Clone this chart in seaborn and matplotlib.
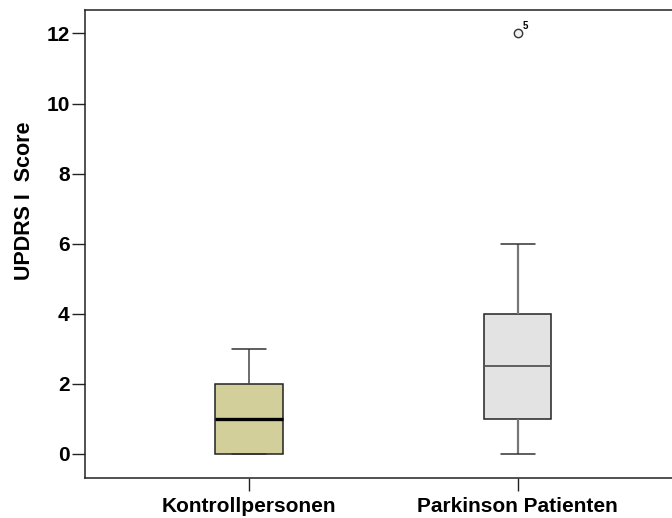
import numpy as np
import pandas as pd
import matplotlib
matplotlib.use("Agg")
import matplotlib.pyplot as plt
import seaborn as sns

# --- Daten ---
gruppen = ["Kontrollpersonen", "Parkinson Patienten"]
kontroll_werte = [0, 0, 0, 1, 1, 2, 2, 3]
parkinson_werte = [0, 1, 1, 1, 2, 3, 4, 4, 6, 12]
ausreisser_fall = "5"
y_ticks = [0, 2, 4, 6, 8, 10, 12]
farben = ["#D3CF9A", "#E3E3E3"]

df = pd.DataFrame({
    "gruppe": [gruppen[0]] * len(kontroll_werte) + [gruppen[1]] * len(parkinson_werte),
    "score": kontroll_werte + parkinson_werte,
})

sns.set_style("white")
plt.rcParams["font.family"] = ["Liberation Sans", "DejaVu Sans"]
plt.rcParams["text.color"] = "black"
plt.rcParams["axes.labelcolor"] = "black"
plt.rcParams["xtick.color"] = "black"
plt.rcParams["ytick.color"] = "black"

fig = plt.figure(figsize=(6.72, 5.18), dpi=100)
ax = fig.add_axes([84.7 / 672, 40 / 518, (682 - 84.7) / 672, (478 - 10.3) / 518])

flier = dict(marker="o", markersize=6, markerfacecolor="#f2f2f2",
             markeredgecolor="#333333", markeredgewidth=1)

# Kontrollpersonen
sns.boxplot(data=df[df["gruppe"] == gruppen[0]], x="gruppe", y="score", order=gruppen,
            color=farben[0], saturation=1, width=0.25, linecolor="#222222", linewidth=1.1,
            whiskerprops=dict(color="#444444"), capprops=dict(color="#333333"),
            medianprops=dict(color="black", linewidth=2.4),
            flierprops=flier, ax=ax)

# Parkinson Patienten
sns.boxplot(data=df[df["gruppe"] == gruppen[1]], x="gruppe", y="score", order=gruppen,
            color=farben[1], saturation=1, width=0.25, linecolor="#222222", linewidth=1.1,
            whiskerprops=dict(color="#777777", linewidth=1.6), capprops=dict(color="#333333"),
            medianprops=dict(color="#555555", linewidth=1.3),
            flierprops=flier, ax=ax)

# Fallnummer am Ausreisser
ax.annotate(ausreisser_fall, xy=(1, max(parkinson_werte)), xytext=(3.5, 3.5),
            textcoords="offset points", fontsize=7, fontweight="bold")

ax.set_xlim(-0.611, 1.611)
ax.set_ylim(-0.685, 12.66)
ax.set_yticks(y_ticks)
ax.set_xlabel("")
ax.set_ylabel("UPDRS I  Score", fontsize=15.5, fontweight="bold")
ax.yaxis.set_label_coords(-0.083, 0.592)

for lab in ax.get_xticklabels() + ax.get_yticklabels():
    lab.set_fontweight("bold")
ax.tick_params(axis="both", direction="out", length=9.4, width=1.0, color="#222222", labelsize=15)
ax.tick_params(axis="y", pad=1.5)
ax.tick_params(axis="x", pad=4)
ax.tick_params(left=True, bottom=True)

for s in ["left", "bottom", "top"]:
    ax.spines[s].set_color("#222222")
    ax.spines[s].set_linewidth(1.1)
ax.spines["right"].set_visible(False)

fig.savefig("out.png", dpi=100)
